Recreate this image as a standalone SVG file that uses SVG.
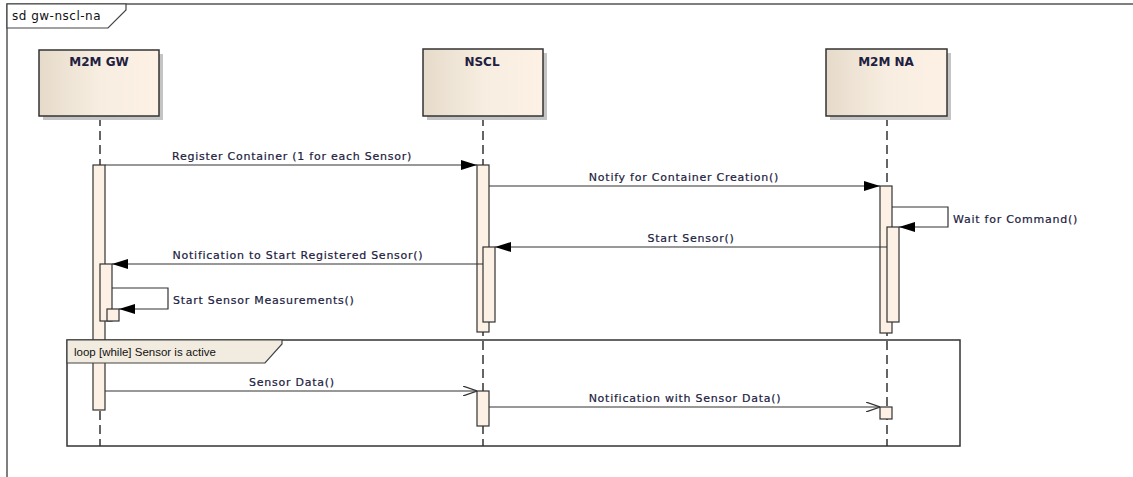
<svg xmlns="http://www.w3.org/2000/svg" width="1133" height="477" viewBox="0 0 1133 477">
<defs>
<linearGradient id="lg" x1="0" y1="0" x2="1" y2="0">
<stop offset="0" stop-color="#e6dbca"/>
<stop offset="0.5" stop-color="#f7ede0"/>
<stop offset="1" stop-color="#fcf1e4"/>
</linearGradient>
<marker id="filled" markerWidth="16" markerHeight="10" refX="16" refY="5" orient="auto" markerUnits="userSpaceOnUse">
<path d="M0,0 L16,5 L0,10 Z" fill="#000"/>
</marker>
<marker id="open" markerWidth="14" markerHeight="10" refX="14" refY="5" orient="auto" markerUnits="userSpaceOnUse">
<path d="M0,0 L14,5 L0,10" fill="none" stroke="#333" stroke-width="1.2"/>
</marker>
</defs>
<style>
text{font-family:"DejaVu Sans","Liberation Sans",sans-serif;font-size:11px;fill:#202040;letter-spacing:0.75px;stroke:#202040;stroke-width:0.2}
.hdr{font-size:12px;text-anchor:middle;font-weight:bold;letter-spacing:0;stroke:none}
.ftxt{font-size:12px;letter-spacing:0.5px;fill:#111;stroke:none}
.ltxt{font-family:"Liberation Sans",Arial,sans-serif;font-size:11.5px;letter-spacing:0;fill:#111;stroke:none}
.box{fill:url(#lg);stroke:#333;stroke-width:1.5}
.sh{fill:#c4c4c4}
.life{stroke:#333;stroke-width:1.5;stroke-dasharray:9,5;fill:none}
.act{fill:#fcf1e4;stroke:#333;stroke-width:1.2}
.msg{stroke:#333;stroke-width:1.2;fill:none}
.frm{fill:none;stroke:#555;stroke-width:1.5}
.tab{fill:#fff;stroke:#444;stroke-width:1.2}
.ltab{fill:#f2ebdf;stroke:#444;stroke-width:1.2}
</style>
<rect width="1133" height="477" fill="#fff"/>
<g id="frame">
<path class="frm" d="M7,477 L7,4 L1133,4"/>
<path class="tab" d="M7,4 L126,4 L126,10 L108,28 L7,28 Z"/>
<text class="ftxt" x="12" y="20">sd gw-nscl-na</text>
</g>
<g id="lifelines">
<line class="life" x1="100" y1="117" x2="100" y2="446"/>
<line class="life" x1="483" y1="117" x2="483" y2="446"/>
<line class="life" x1="887" y1="117" x2="887" y2="446"/>
</g>
<g id="m2m-gw">
<rect class="sh" x="43" y="54" width="120" height="66"/>
<rect class="box" x="39" y="50" width="120" height="66"/>
<text class="hdr" x="99" y="66">M2M GW</text>
</g>
<g id="nscl">
<rect class="sh" x="427" y="53" width="120" height="67"/>
<rect class="box" x="423" y="49" width="120" height="67"/>
<text class="hdr" x="482" y="66">NSCL</text>
</g>
<g id="m2m-na">
<rect class="sh" x="830" y="53" width="121" height="67"/>
<rect class="box" x="826" y="49" width="121" height="67"/>
<text class="hdr" x="886" y="66">M2M NA</text>
</g>
<g id="activations">
<rect class="act" x="93" y="165" width="12" height="245"/>
<rect class="act" x="477" y="165" width="12" height="167"/>
<rect class="act" x="880" y="186" width="12" height="147"/>
<rect class="act" x="887" y="227" width="12" height="95"/>
<rect class="act" x="483" y="247" width="12" height="75"/>
<rect class="act" x="100" y="264" width="12" height="57"/>
<rect class="act" x="107" y="309" width="12" height="12"/>
<rect class="act" x="477" y="391" width="12" height="35"/>
<rect class="act" x="880" y="407" width="12" height="12"/>
</g>
<g id="loop-fragment">
<rect class="frm" x="67" y="340" width="893" height="106" style="stroke:#333"/>
<path class="ltab" d="M67,340 L282,340 L282,344 L265,363 L67,363 Z"/>
<text class="ltxt" x="74" y="356">loop [while] Sensor is active</text>
</g>
<g id="connectors">
<line class="msg" x1="105" y1="165" x2="477" y2="165" marker-end="url(#filled)"/>
<text x="292" y="160" text-anchor="middle">Register Container (1 for each Sensor)</text>
<line class="msg" x1="489" y1="186" x2="880" y2="186" marker-end="url(#filled)"/>
<text x="684" y="181" text-anchor="middle">Notify for Container Creation()</text>
<path class="msg" d="M892,207 L948,207 L948,227 L899,227" marker-end="url(#filled)"/>
<text x="953" y="223">Wait for Command()</text>
<line class="msg" x1="887" y1="247" x2="495" y2="247" marker-end="url(#filled)"/>
<text x="691" y="242" text-anchor="middle">Start Sensor()</text>
<line class="msg" x1="483" y1="264" x2="112" y2="264" marker-end="url(#filled)"/>
<text x="298" y="259" text-anchor="middle">Notification to Start Registered Sensor()</text>
<path class="msg" d="M112,288 L168,288 L168,309 L119,309" marker-end="url(#filled)"/>
<text x="173" y="304">Start Sensor Measurements()</text>
<line class="msg" x1="105" y1="391" x2="477" y2="391" marker-end="url(#open)"/>
<text x="292" y="386" text-anchor="middle">Sensor Data()</text>
<line class="msg" x1="489" y1="407" x2="880" y2="407" marker-end="url(#open)"/>
<text x="685" y="402" text-anchor="middle">Notification with Sensor Data()</text>
</g>
</svg>
